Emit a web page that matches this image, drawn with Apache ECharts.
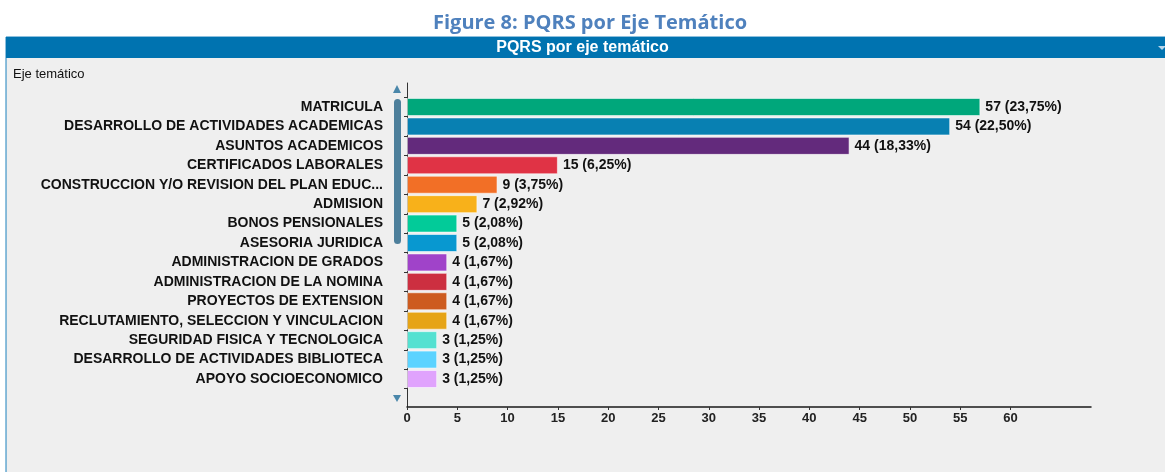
<!DOCTYPE html>
<html>
<head>
<meta charset="utf-8">
<script src="https://cdn.jsdelivr.net/npm/echarts@6/dist/echarts.min.js"></script>
<style>
body{margin:0;background:#fff;}
#chart{width:1165px;height:472px;}
</style>
</head>
<body>
<div id="chart"></div>
<script>
// datos
var categories = [
  "MATRICULA",
  "DESARROLLO DE ACTIVIDADES ACADEMICAS",
  "ASUNTOS ACADEMICOS",
  "CERTIFICADOS LABORALES",
  "CONSTRUCCION Y/O REVISION DEL PLAN EDUC...",
  "ADMISION",
  "BONOS PENSIONALES",
  "ASESORIA JURIDICA",
  "ADMINISTRACION DE GRADOS",
  "ADMINISTRACION DE LA NOMINA",
  "PROYECTOS DE EXTENSION",
  "RECLUTAMIENTO, SELECCION Y VINCULACION",
  "SEGURIDAD FISICA Y TECNOLOGICA",
  "DESARROLLO DE ACTIVIDADES BIBLIOTECA",
  "APOYO SOCIOECONOMICO"
];
var counts = [57, 54, 44, 15, 9, 7, 5, 5, 4, 4, 4, 4, 3, 3, 3];
var percents = [23.75, 22.50, 18.33, 6.25, 3.75, 2.92, 2.08, 2.08, 1.67, 1.67, 1.67, 1.67, 1.25, 1.25, 1.25];
var xTicks = [0, 5, 10, 15, 20, 25, 30, 35, 40, 45, 50, 55, 60];

var barColors = ["#00a77b", "#0880b2", "#632a7c", "#e03345", "#f26f26", "#f8b11a", "#02cb99",
  "#0898d0", "#a043c9", "#cc2f40", "#cd5b1f", "#e6a416", "#54e1d1", "#5bd3ff", "#e0a3fd"];

var xMax = 68;
var font = "Liberation Sans";

var myChart = echarts.init(document.getElementById("chart"));

var option = {
  backgroundColor: "#ffffff",
  animation: false,
  title: [
    {
      text: "Figure 8: PQRS por Eje Temático",
      left: 433,
      top: 13,
      padding: 0,
      textStyle: { fontFamily: "Open Sans", fontWeight: "bold", fontSize: 20, color: "#4f81bd" }
    },
    {
      text: "PQRS por eje temático",
      left: "center",
      top: 40,
      padding: 0,
      textStyle: { fontFamily: font, fontWeight: "bold", fontSize: 16, color: "#ffffff" }
    },
    {
      text: "Eje temático",
      left: 13,
      top: 68,
      padding: 0,
      textStyle: { fontFamily: font, fontWeight: "normal", fontSize: 13, color: "#111111" }
    }
  ],
  graphic: [
    { type: "rect", z: -10, shape: { x: 6, y: 37, width: 1165, height: 440 },
      style: { fill: "#efefef", stroke: "#1a80bd", lineWidth: 1 } },
    { type: "rect", z: -9, shape: { x: 6, y: 37, width: 1159, height: 21 },
      style: { fill: "#0073b0" } },
    { type: "polygon", z: -8, shape: { points: [[1158, 46], [1166, 46], [1162, 50]] },
      style: { fill: "#b8d6ea" } },
    // barra de desplazamiento
    { type: "polygon", shape: { points: [[393, 93], [401, 93], [397, 85]] },
      style: { fill: "#4a87aa" } },
    { type: "rect", shape: { x: 394, y: 99, width: 7, height: 145, r: 3.5 },
      style: { fill: "#4d7f9b" } },
    { type: "polygon", shape: { points: [[393, 395], [401, 395], [397, 402]] },
      style: { fill: "#4a87aa" } }
  ],
  grid: [
    { left: 407, top: 97.3, width: 684, height: 291.4 },
    { left: 407, top: 83, width: 684, height: 324 }
  ],
  xAxis: [
    { gridIndex: 0, type: "value", min: 0, max: xMax, show: false },
    {
      gridIndex: 1, type: "value", min: 0, max: xMax,
      axisLine: { show: true, lineStyle: { color: "#1a1a1a", width: 1.5 } },
      axisTick: { show: true, length: 3, customValues: xTicks, lineStyle: { color: "#333" } },
      axisLabel: { customValues: xTicks, margin: 5, fontFamily: font, fontWeight: "bold",
        fontSize: 13, color: "#222222" },
      splitLine: { show: false }
    }
  ],
  yAxis: [
    {
      gridIndex: 0, type: "category", inverse: true, data: categories,
      axisLine: { show: false },
      axisTick: { show: true, length: 3, lineStyle: { color: "#333" } },
      axisLabel: { margin: 24, fontFamily: font, fontWeight: "bold", fontSize: 14, color: "#111111" }
    },
    {
      gridIndex: 1, type: "value", min: 0, max: 1,
      axisLine: { show: true, onZero: false, lineStyle: { color: "#333333", width: 1 } },
      axisTick: { show: false },
      axisLabel: { show: false },
      splitLine: { show: false }
    }
  ],
  series: [
    {
      type: "bar",
      xAxisIndex: 0,
      yAxisIndex: 0,
      data: counts,
      barWidth: 18,
      itemStyle: {
        color: function (p) { return barColors[p.dataIndex]; },
        borderColor: "rgba(255,255,255,0.55)",
        borderWidth: 1
      },
      label: {
        show: true,
        position: "right",
        distance: 5,
        fontFamily: font,
        fontWeight: "bold",
        fontSize: 14,
        color: "#111111",
        formatter: function (p) {
          return counts[p.dataIndex] + " (" + percents[p.dataIndex].toFixed(2).replace(".", ",") + "%)";
        }
      }
    }
  ]
};

myChart.setOption(option);
</script>
</body>
</html>
